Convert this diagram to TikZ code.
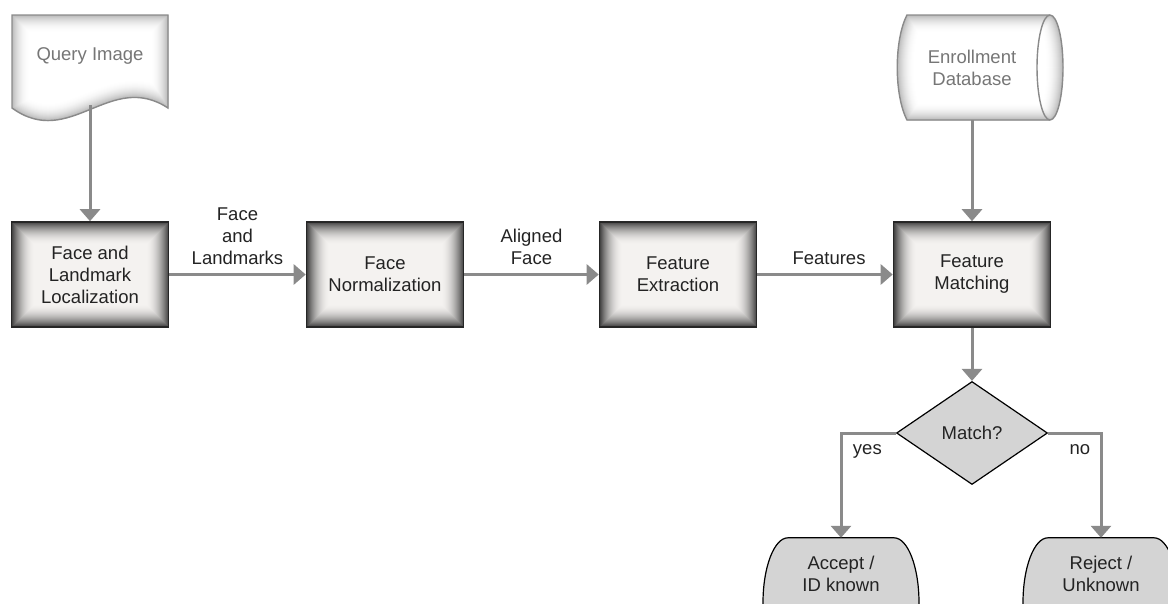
\documentclass[tikz,border=0pt]{standalone}
\usepackage{fontspec}
\setmainfont{Liberation Sans}
\usetikzlibrary{arrows.meta,shapes.geometric,backgrounds}

\definecolor{arrowgray}{RGB}{138,138,138}
\definecolor{boxin}{RGB}{244,242,240}
\definecolor{docline}{RGB}{138,138,138}
\definecolor{docglow}{RGB}{180,180,180}
\definecolor{softtext}{RGB}{118,118,118}
\definecolor{decfill}{RGB}{212,212,212}
\definecolor{ink}{RGB}{35,35,35}

\tikzset{
  lbl/.style={font=\fontsize{18.5}{22}\selectfont, text=ink, align=center},
  % process box with a dark inner glow
  stepbox/.style={lbl, rectangle, minimum width=157pt, minimum height=105pt, inner sep=0pt,
    draw=black!85, line width=1.6pt,
    path picture={
      \fill[boxin] (path picture bounding box.south west) rectangle (path picture bounding box.north east);
      \foreach \d [evaluate=\d as \p using {22+78*(1-(1-\d/24)^2)}] in {24,23,...,1}{
        \draw[line width=2*\d pt, boxin!\p!black]
          (path picture bounding box.south west) rectangle (path picture bounding box.north east);
      }
    }},
  flow/.style={draw=arrowgray, line width=3pt, -{Triangle[width=20pt,length=12pt]}},
  decision/.style={lbl, diamond, draw=black, line width=1.2pt, fill=decfill,
    minimum width=151pt, minimum height=103pt, inner sep=0pt},
  terminal/.style={lbl, minimum height=72pt, minimum width=100pt, inner sep=0pt},
  termshape/.style={draw=black, line width=1.2pt, fill=decfill},
  store/.style={lbl, text=softtext, inner sep=0pt},
  edgelabel/.style={lbl, inner sep=0pt},
  softedge/.style={draw=docline, line width=1.4pt},
  querypath/.style={insert path={(12,-15) -- (168,-15) -- (168,-108)
      .. controls (110,-70) and (70,-150) .. (12,-108) -- cycle}},
  cylpath/.style={insert path={(907,-15) -- (1050,-15)
      arc[start angle=90,end angle=-90,x radius=13,y radius=52.5]
      -- (907,-120) .. controls (894,-95) and (894,-40) .. (907,-15) -- cycle}},
}

\begin{document}
\begin{tikzpicture}[x=1pt,y=1pt]
\clip (0,0) rectangle (1168,-603);
\useasboundingbox (0,0) rectangle (1168,-603);

% query image document with a soft glow
\begin{scope}
  \clip[querypath];
  \fill[white][querypath];
  \foreach \d [evaluate=\d as \p using {100*(1-(1-\d/18)^2)}] in {18,17,...,1}{
    \draw[line width=2*\d pt, white!\p!docglow][querypath];
  }
\end{scope}
\path[softedge][querypath];

% enrollment database store
\begin{scope}
  \clip[cylpath];
  \fill[white][cylpath];
  \foreach \d [evaluate=\d as \p using {100*(1-(1-\d/18)^2)}] in {18,17,...,1}{
    \draw[line width=2*\d pt, white!\p!docglow][cylpath];
  }
\end{scope}
\path[softedge][cylpath];
\draw[softedge] (1050,-15) arc[start angle=90,end angle=270,x radius=13,y radius=52.5];

\node[store, minimum height=99pt] (query) at (90,-55.5) {Query Image};
\node[store, minimum height=105pt] (enroll) at (972,-67.5) {Enrollment\\Database};

% processing chain
\node[stepbox] (box1) at (90,-274.5) {Face and\\Landmark\\Localization};
\node[stepbox] (box2) at (385,-274.5) {Face\\Normalization};
\node[stepbox] (box3) at (678,-274.5) {Feature\\Extraction};
\node[stepbox] (box4) at (972,-274.5) {Feature\\Matching};

\node[decision] (match) at (972,-433) {Match?};

\node[terminal] (accept) at (841,-574) {Accept /\\ID known};
\node[terminal] (reject) at (1101,-574) {Reject /\\Unknown};

% terminal outlines behind their texts
\begin{scope}[on background layer]
  \foreach \t in {accept,reject}{
    \draw[termshape] ([xshift=-53pt]\t.north) -- ([xshift=53pt]\t.north)
      arc[start angle=90,end angle=-90,x radius=25,y radius=65]
      -- ([xshift=-53pt,yshift=-130pt]\t.north)
      arc[start angle=270,end angle=90,x radius=25,y radius=65] -- cycle;
  }
\end{scope}

% connectors
\draw[flow] (query.south) -- (box1.north);
\draw[flow] (enroll.south) -- (box4.north);
\draw[flow] (box1.east) -- node[edgelabel, above=8pt] {Face\\and\\Landmarks} (box2.west);
\draw[flow] (box2.east) -- node[edgelabel, above=8pt] {Aligned\\Face} (box3.west);
\draw[flow] (box3.east) -- node[edgelabel, above=8pt, xshift=4pt] {Features} (box4.west);
\draw[flow] (box4.south) -- (match.north);
\draw[flow] (match.west) -| node[edgelabel, below=10pt, pos=0.26] {yes} (accept.north);
\draw[flow] (match.east) -| node[edgelabel, below=10pt, pos=0.3] {no} (reject.north);
\end{tikzpicture}
\end{document}
